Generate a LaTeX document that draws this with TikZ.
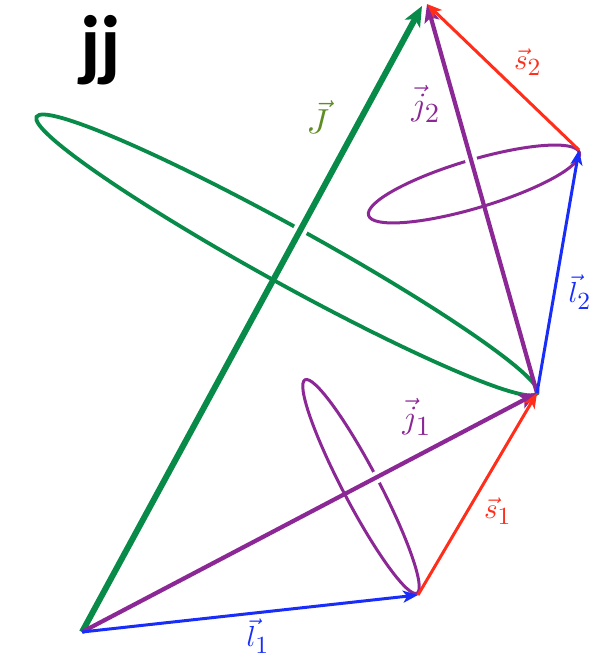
\documentclass[tikz,border=0pt]{standalone}
\usepackage{fontspec}
\newfontfamily\titlefont{Carlito}
\usetikzlibrary{arrows.meta,calc}
\definecolor{jgreen}{RGB}{8,138,72}
\definecolor{Jlab}{RGB}{95,140,35}
\definecolor{jpurple}{RGB}{140,40,150}
\definecolor{lblue}{RGB}{25,45,250}
\definecolor{sred}{RGB}{255,45,25}
\newcommand{\idx}[1]{\mbox{\fontsize{8.5}{10}\selectfont #1}}
\begin{document}
\begin{tikzpicture}[x=1pt,y=-1pt,
  vecJ/.style={draw=jgreen, line width=6pt, -{Stealth[length=20pt,width=17pt,inset=5pt]}},
  vecj/.style={draw=jpurple, line width=4.2pt, -{Stealth[length=18pt,width=15pt,inset=4pt]}},
  vecl/.style={draw=lblue, line width=3pt, -{Stealth[length=15pt,width=12pt,inset=4pt]}},
  vecs/.style={draw=sred, line width=3pt, -{Stealth[length=15pt,width=12pt,inset=4pt]}},
  gell/.style={draw=jgreen, line width=3.8pt},
  pell/.style={draw=jpurple, line width=3pt},
  halo/.style={draw=white, line width=14pt},
  lab/.style={scale=2.9, inner sep=0pt}]
\useasboundingbox (0,0) rectangle (590,659);
\coordinate (O) at (82,632);
\coordinate (A) at (418,595);
\coordinate (B) at (537,393);
\coordinate (C) at (579,150);
\coordinate (D) at (427,4);
\coordinate (Jt) at (422,6);
\coordinate (ge) at (287,255);
\coordinate (pu) at (474,184);
\coordinate (pl) at (361,486.5);
% precession cones
\draw[gell, rotate around={-28.9:(ge)}] (ge) ellipse [x radius=286pt, y radius=28.5pt];
\draw[pell, rotate around={16.6:(pu)}] (pu) ellipse [x radius=110pt, y radius=24pt];
\draw[pell, rotate around={-62.3:(pl)}] (pl) ellipse [x radius=120.5pt, y radius=18pt];
% gaps where the back of each ellipse passes behind its vector
\draw[halo] ($(O)!0.62!(Jt)$) -- ($(O)!0.665!(Jt)$);
\draw[halo, line width=12pt] ($(B)!0.58!(D)$) -- ($(B)!0.625!(D)$);
\draw[halo, line width=12pt] ($(O)!0.628!(B)$) -- ($(O)!0.665!(B)$);
% vectors
\draw[vecJ] (O) -- (Jt);
\draw[vecj] (O) -- (B);
\draw[vecj] (B) -- (D);
\draw[vecl] (O) -- (A);
\draw[vecl] (B) -- (C);
\draw[vecs] (A) -- (B);
\draw[vecs] (C) -- (D);
% labels
\node[font=\titlefont\bfseries\fontsize{80}{80}\selectfont, inner sep=0pt] (title) at (101,50) {jj};
\node[lab, scale=1.2, text=Jlab] (lJ) at (318,117) {$\vec{J}$};
\node[lab, scale=1.12, text=jpurple] (lj2) at (426,104) {$\vec{j}_{\idx{2}}$};
\node[lab, text=sred] (ls2) at (528,62) {$\vec{s}_{\idx{2}}$};
\node[lab, text=lblue] (ll2) at (580,292) {$\vec{l}_{\idx{2}}$};
\node[lab, scale=1.12, text=jpurple] (lj1) at (417,417) {$\vec{j}_{\idx{1}}$};
\node[lab, text=sred] (ls1) at (498,511) {$\vec{s}_{\idx{1}}$};
\node[lab, text=lblue] (ll1) at (258,636) {$\vec{l}_{\idx{1}}$};
\end{tikzpicture}
\end{document}
